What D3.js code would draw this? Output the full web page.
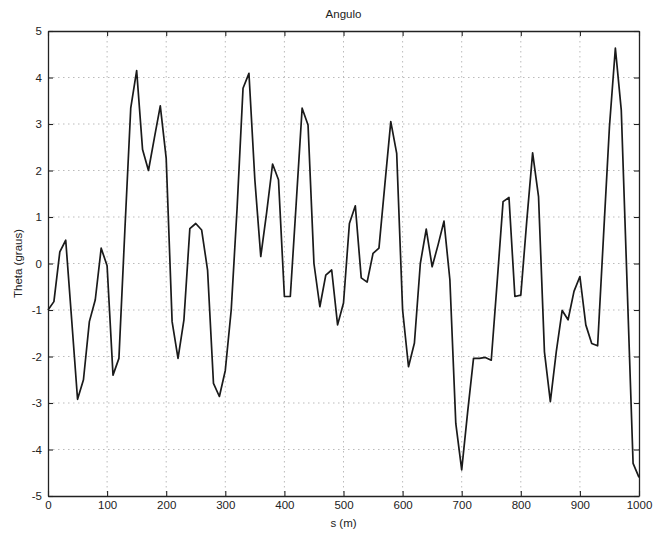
<!DOCTYPE html>
<html>
<head>
<meta charset="utf-8">
<script src="https://cdn.jsdelivr.net/npm/d3@7"></script>
<style>
  html, body { margin: 0; padding: 0; background: #fff; }
  svg { display: block; font-family: "Liberation Sans", Arial, Helvetica, sans-serif; }
</style>
</head>
<body>
<svg id="chart" width="655" height="536"></svg>
<script>
// ---- data ----
const sValues = [
  0,10,20,30,40,50,60,70,80,90,
  100,110,120,130,140,150,160,170,180,190,
  200,210,220,230,240,250,260,270,280,290,
  300,310,320,330,340,350,360,370,380,390,
  400,410,420,430,440,450,460,470,480,490,
  500,510,520,530,540,550,560,570,580,590,
  600,610,620,630,640,650,660,670,680,690,
  700,710,720,730,740,750,760,770,780,790,
  800,810,820,830,840,850,860,870,880,890,
  900,910,920,930,940,950,960,970,980,990,
  1000
];
const thetaValues = [
  -1.0,-0.82,0.25,0.5,-1.2,-2.92,-2.5,-1.25,-0.78,0.33,
  -0.05,-2.4,-2.04,0.7,3.34,4.15,2.45,2.0,2.7,3.39,
  2.26,-1.25,-2.04,-1.21,0.75,0.86,0.72,-0.14,-2.58,-2.86,
  -2.3,-1.0,1.2,3.77,4.09,1.8,0.15,1.1,2.14,1.8,
  -0.71,-0.71,1.3,3.34,2.98,0.0,-0.93,-0.25,-0.14,-1.32,
  -0.85,0.86,1.24,-0.31,-0.4,0.22,0.33,1.7,3.05,2.37,
  -1.0,-2.22,-1.71,0.0,0.74,-0.07,0.4,0.91,-0.35,-3.44,
  -4.44,-3.2,-2.04,-2.04,-2.02,-2.08,-0.4,1.33,1.42,-0.71,
  -0.68,0.9,2.38,1.44,-1.9,-2.97,-1.9,-1.01,-1.21,-0.6,
  -0.28,-1.32,-1.72,-1.77,0.6,2.94,4.63,3.3,-0.5,-4.3,
  -4.6
];
const xTicks = [0,100,200,300,400,500,600,700,800,900,1000];
const yTicks = [-5,-4,-3,-2,-1,0,1,2,3,4,5];
const titleText = "Angulo";
const xLabel = "s (m)";
const yLabel = "Theta (graus)";

// ---- layout ----
const mLeft = 48, mRight = 639, mTop = 31, mBottom = 496;
const svg = d3.select("#chart");
const x = d3.scaleLinear().domain([0, 1000]).range([mLeft, mRight]);
const y = d3.scaleLinear().domain([-5, 5]).range([mBottom, mTop]);
const fmt = d => String(d);

// grid
const grid = svg.append("g");
grid.selectAll(".gx").data(xTicks.slice(1, -1)).join("line")
  .attr("x1", d => x(d)).attr("x2", d => x(d))
  .attr("y1", mTop).attr("y2", mBottom)
  .attr("stroke", "#aaa").attr("stroke-width", 0.8).attr("stroke-dasharray", "1.5,3.5");
grid.selectAll(".gy").data(yTicks.slice(1, -1)).join("line")
  .attr("x1", mLeft).attr("x2", mRight)
  .attr("y1", d => y(d)).attr("y2", d => y(d))
  .attr("stroke", "#aaa").attr("stroke-width", 0.8).attr("stroke-dasharray", "1.5,3.5");

// axes (inward ticks, MATLAB style)
const tick = 5;
const axB = svg.append("g").attr("transform", `translate(0,${mBottom})`)
  .call(d3.axisBottom(x).tickValues(xTicks).tickFormat(fmt).tickSizeInner(-tick).tickSizeOuter(0).tickPadding(5));
const axT = svg.append("g").attr("transform", `translate(0,${mTop})`)
  .call(d3.axisTop(x).tickValues(xTicks).tickFormat("").tickSizeInner(-tick).tickSizeOuter(0));
const axL = svg.append("g").attr("transform", `translate(${mLeft},0)`)
  .call(d3.axisLeft(y).tickValues(yTicks).tickFormat(fmt).tickSizeInner(-tick).tickSizeOuter(0).tickPadding(6));
const axR = svg.append("g").attr("transform", `translate(${mRight},0)`)
  .call(d3.axisRight(y).tickValues(yTicks).tickFormat("").tickSizeInner(-tick).tickSizeOuter(0));
[axB, axT, axL, axR].forEach(a => {
  a.select(".domain").attr("stroke", "#222").attr("stroke-width", 1.3);
  a.selectAll(".tick line").attr("stroke", "#222").attr("stroke-width", 1.1);
  a.selectAll("text").attr("font-size", 11.5).attr("fill", "#222")
    .attr("font-family", "'Liberation Sans', Arial, sans-serif");
});

// line
const line = d3.line().x((d, i) => x(sValues[i])).y(d => y(d));
svg.append("path").datum(thetaValues)
  .attr("d", line).attr("fill", "none")
  .attr("stroke", "#1a1a1a").attr("stroke-width", 1.7).attr("stroke-linejoin", "round");

// labels
svg.append("text").attr("x", (mLeft + mRight) / 2).attr("y", 18)
  .attr("text-anchor", "middle").attr("font-size", 11.5).attr("fill", "#222").text(titleText);
svg.append("text").attr("x", (mLeft + mRight) / 2).attr("y", 527)
  .attr("text-anchor", "middle").attr("font-size", 11.5).attr("fill", "#222").text(xLabel);
svg.append("text").attr("transform", `translate(22,${(mTop + mBottom) / 2}) rotate(-90)`)
  .attr("text-anchor", "middle").attr("font-size", 11.5).attr("fill", "#222").text(yLabel);
</script>
</body>
</html>
